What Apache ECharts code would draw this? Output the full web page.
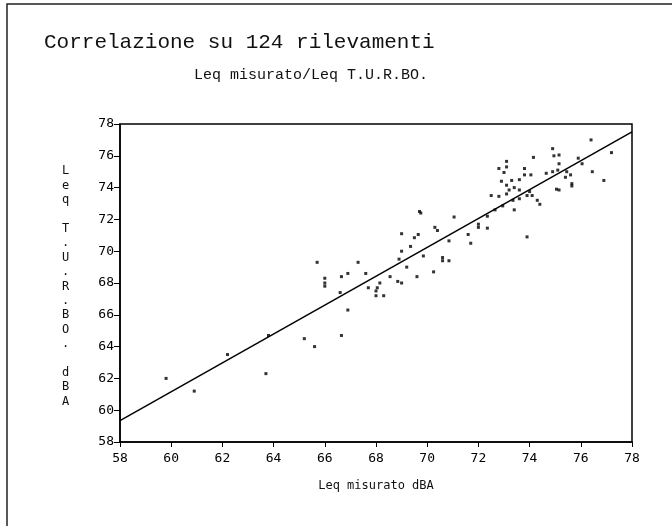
<!DOCTYPE html>
<html>
<head>
<meta charset="utf-8">
<script src="https://cdn.jsdelivr.net/npm/echarts@6/dist/echarts.min.js"></script>
<style>html,body{margin:0;padding:0;background:#fff}#c{width:672px;height:526px}</style>
</head>
<body>
<div id="c"></div>
<script>
// ---- data ----
const titleText = 'Correlazione su 124 rilevamenti';
const subtitleText = 'Leq misurato/Leq T.U.R.BO.';
const xAxisName = 'Leq misurato dBA';
const yAxisNameChars = ['L','e','q',' ','T','.','U','.','R','.','B','O','.',' ','d','B','A'];
const xTickLabels = ['58','60','62','64','66','68','70','72','74','76','78'];
const yTickLabels = ['58','60','62','64','66','68','70','72','74','76','78'];
// measured Leq (x)
const measured = [59.8,60.9,62.2,63.7,63.8,65.2,65.6,65.7,66.0,66.0,66.0,66.6,66.65,66.65,66.9,66.9,67.3,67.6,67.7,68.0,
  68.0,68.05,68.15,68.3,68.55,68.85,69.0,68.9,69.0,69.2,69.0,69.35,69.5,69.6,69.65,69.7,69.75,69.85,70.25,70.3,
  70.4,70.6,70.6,70.85,70.85,71.05,71.6,71.7,72.0,72.0,72.35,72.35,72.65,72.5,72.8,72.95,73.1,73.35,73.6,73.4,
  72.8,73.0,73.1,73.1,72.9,73.3,73.6,73.8,73.8,74.05,74.15,73.1,73.4,73.2,73.6,74.0,73.9,74.1,74.3,74.4,
  73.9,74.65,74.9,75.1,74.9,74.95,75.15,75.15,75.05,75.15,75.45,75.6,75.4,75.65,75.65,75.9,76.05,76.45,76.4,76.9,77.2];
// T.U.R.BO. Leq (y)
const turbo = [62.0,61.2,63.5,62.3,64.7,64.5,64.0,69.3,68.3,68.0,67.8,67.4,68.4,64.7,68.6,66.3,69.3,68.6,67.7,67.5,
  67.2,67.7,68.0,67.2,68.4,68.1,68.0,69.5,70.0,69.0,71.1,70.3,70.85,68.4,71.05,72.5,72.4,69.7,68.7,71.5,
  71.3,69.6,69.4,70.65,69.4,72.15,71.05,70.5,71.7,71.5,71.45,72.2,72.6,73.5,73.45,72.85,73.6,73.2,73.3,72.6,
  75.2,74.95,75.65,75.3,74.4,74.45,74.5,74.8,75.2,74.8,75.9,74.15,74.0,73.85,73.85,73.75,73.5,73.5,73.2,72.95,
  70.9,74.9,75.0,75.1,76.45,76.0,76.05,75.5,73.9,73.85,75.0,74.8,74.65,74.25,74.1,75.85,75.5,75.0,77.0,74.45,76.2];
// regression line end points [x, y]
const regressionX = [58, 78];
const regressionY = [59.35, 77.5];

const points = measured.map((v, i) => [v, turbo[i]]);
const regLine = regressionX.map((v, i) => [v, regressionY[i]]);

const chart = echarts.init(document.getElementById('c'), null, {renderer: 'canvas'});
const axisFont = {fontFamily: 'DejaVu Sans Mono', fontSize: 13, color: '#000'};
chart.setOption({
  animation: false,
  backgroundColor: '#fff',
  title: [
    {text: titleText, left: 39, top: 27, textStyle: {fontFamily: 'Liberation Mono', fontSize: 21, fontWeight: 'normal', color: '#111'}},
    {text: subtitleText, left: 189, top: 63, textStyle: {fontFamily: 'Liberation Mono', fontSize: 15, fontWeight: 'normal', color: '#111'}}
  ],
  grid: {left: 120, right: 40, top: 124, bottom: 84, show: true, borderColor: '#000', borderWidth: 1.5, backgroundColor: 'transparent'},
  xAxis: {
    type: 'value', min: 58, max: 78, interval: 2,
    name: xAxisName, nameLocation: 'middle', nameGap: 38,
    nameTextStyle: {fontFamily: 'DejaVu Sans Mono', fontSize: 12, color: '#111'},
    axisLine: {lineStyle: {color: '#000', width: 1.5}},
    axisTick: {length: 5, lineStyle: {color: '#000'}},
    axisLabel: Object.assign({margin: 10, formatter: (v) => xTickLabels[Math.round((v - 58) / 2)]}, axisFont),
    splitLine: {show: false}
  },
  yAxis: {
    type: 'value', min: 58, max: 78, interval: 2,
    axisLine: {show: true, lineStyle: {color: '#000', width: 1.5}},
    axisTick: {show: true, length: 6, lineStyle: {color: '#000'}},
    axisLabel: Object.assign({margin: 6, formatter: (v) => yTickLabels[Math.round((v - 58) / 2)]}, axisFont),
    splitLine: {show: false}
  },
  graphic: [
    {type: 'rect', shape: {x: 7, y: 4, width: 700, height: 560}, style: {fill: 'none', stroke: '#222', lineWidth: 1.5}, silent: true},
    {type: 'text', left: 62, top: 164, style: {text: yAxisNameChars.join('\n'), fontFamily: 'DejaVu Sans Mono', fontSize: 12, lineHeight: 14.4, fill: '#111', align: 'center'}}
  ],
  series: [
    {type: 'scatter', data: points, symbol: 'rect', symbolSize: 3, itemStyle: {color: '#000'}},
    {type: 'line', data: regLine, showSymbol: false, symbol: 'none', lineStyle: {color: '#000', width: 1.5}}
  ]
});
</script>
</body>
</html>
